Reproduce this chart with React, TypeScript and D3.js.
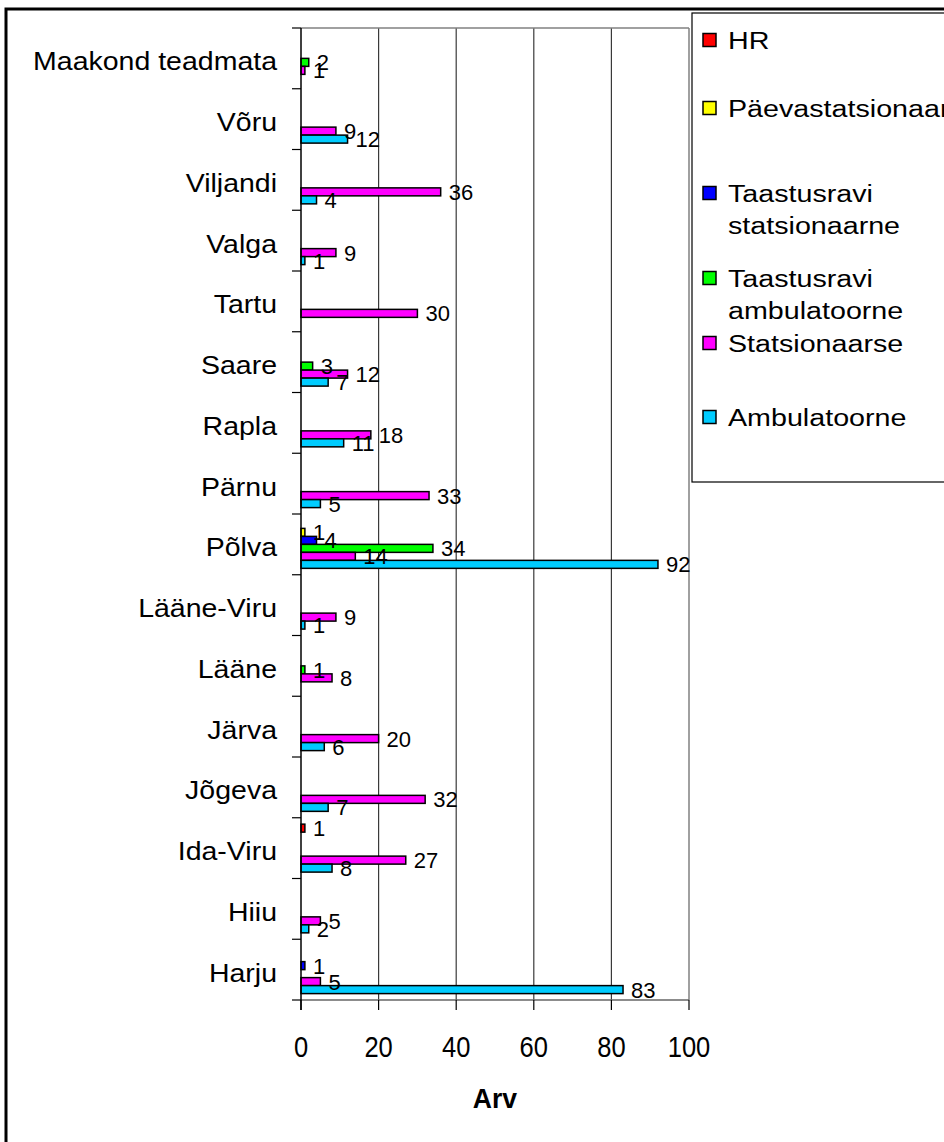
import React from "react";
import * as d3 from "d3";

const categories = [
  "Harju", "Hiiu", "Ida-Viru", "Jõgeva", "Järva", "Lääne", "Lääne-Viru", "Põlva",
  "Pärnu", "Rapla", "Saare", "Tartu", "Valga", "Viljandi", "Võru", "Maakond teadmata",
];

const ambulatoorne = [83, 2, 8, 7, 6, null, 1, 92, 5, 11, 7, null, 1, 4, 12, null];
const statsionaarse = [5, 5, 27, 32, 20, 8, 9, 14, 33, 18, 12, 30, 9, 36, 9, 1];
const taastusraviAmbulatoorne = [null, null, null, null, null, 1, null, 34, null, null, 3, null, null, null, null, 2];
const taastusraviStatsionaarne = [1, null, null, null, null, null, null, 4, null, null, null, null, null, null, null, null];
const paevastatsionaar = [null, null, null, null, null, null, null, 1, null, null, null, null, null, null, null, null];
const hr = [null, null, 1, null, null, null, null, null, null, null, null, null, null, null, null, null];

const xTicks = [0, 20, 40, 60, 80, 100];

// series listed top-to-bottom within a category group (legend order)
const series = [
  { key: "HR", lines: ["HR"], values: hr, color: "#FF0000" },
  { key: "Päevastatsionaar", lines: ["Päevastatsionaar"], values: paevastatsionaar, color: "#FFFF00" },
  { key: "TS", lines: ["Taastusravi", "statsionaarne"], values: taastusraviStatsionaarne, color: "#0000FF" },
  { key: "TA", lines: ["Taastusravi", "ambulatoorne"], values: taastusraviAmbulatoorne, color: "#00FF00" },
  { key: "Statsionaarse", lines: ["Statsionaarse"], values: statsionaarse, color: "#FF00FF" },
  { key: "Ambulatoorne", lines: ["Ambulatoorne"], values: ambulatoorne, color: "#00CCFF" },
];

// layout (not data)
const legendCenters = [40, 108, 193, 278, 343, 417];
const FONT = "'Liberation Sans', Arial, Helvetica, sans-serif";

export default function App() {
  const plotLeft = 301, plotRight = 689, plotTop = 28, plotBottom = 1000;
  const x = d3.scaleLinear().domain([0, 100]).range([plotLeft, plotRight]);
  const y = d3.scaleBand<string>()
    .domain([...categories].reverse())
    .range([plotTop, plotBottom])
    .padding(0);
  const inner = d3.scaleBand<string>()
    .domain(series.map((s) => s.key))
    .range([0, y.bandwidth()])
    .paddingInner(0)
    .paddingOuter(0.8);

  const boundaries = d3.range(categories.length + 1).map((i) => plotTop + i * y.step());

  return (
    <svg
      width={944}
      height={1142}
      style={{ position: "absolute", left: 0, top: 0, background: "#fff" }}
      fontFamily={FONT}
    >
      <rect x={0} y={0} width={944} height={1142} fill="#fff" />
      {/* outer chart border */}
      <rect x={6} y={9} width={1200} height={1400} fill="none" stroke="#000" strokeWidth={3} />

      {/* gridlines */}
      {xTicks.filter((t) => t > 0 && t < 100).map((t) => (
        <line key={"g" + t} x1={x(t)} x2={x(t)} y1={plotTop} y2={plotBottom} stroke="#3a3a3a" strokeWidth={1.2} />
      ))}
      {/* plot border (top/right/bottom) */}
      <line x1={plotLeft} x2={plotRight} y1={plotTop} y2={plotTop} stroke="#808080" strokeWidth={1.5} />
      <line x1={plotRight} x2={plotRight} y1={plotTop} y2={plotBottom} stroke="#808080" strokeWidth={1.5} />
      <line x1={plotLeft} x2={plotRight} y1={plotBottom} y2={plotBottom} stroke="#666" strokeWidth={1.5} />

      {/* bars */}
      {categories.map((c, ci) => (
        <g key={c}>
          {series.map((s) => {
            const v = s.values[ci];
            if (v === null || v === undefined) return null;
            const by = (y(c) as number) + (inner(s.key) as number);
            const bh = inner.bandwidth();
            return (
              <rect
                key={s.key}
                x={x(0)}
                y={by}
                width={Math.max(x(v) - x(0), 0)}
                height={bh}
                fill={s.color}
                stroke="#000"
                strokeWidth={1.5}
              />
            );
          })}
        </g>
      ))}
      {/* data labels */}
      {categories.map((c, ci) => (
        <g key={"l" + c}>
          {series.map((s) => {
            const v = s.values[ci];
            if (v === null || v === undefined) return null;
            const cy = (y(c) as number) + (inner(s.key) as number) + inner.bandwidth() / 2;
            return (
              <text key={s.key} x={x(v) + 8} y={cy + 8} fontSize={22} fill="#000">
                {v}
              </text>
            );
          })}
        </g>
      ))}

      {/* y axis */}
      <line x1={plotLeft} x2={plotLeft} y1={plotTop} y2={plotBottom + 10} stroke="#000" strokeWidth={1.5} />
      {boundaries.map((b, i) => (
        <line key={"yt" + i} x1={plotLeft - 9} x2={plotLeft} y1={b} y2={b} stroke="#000" strokeWidth={1.2} />
      ))}
      {categories.map((c) => (
        <text
          key={"cl" + c}
          transform={`translate(277, ${(y(c) as number) + y.bandwidth() / 2 + 12}) scale(1.14,1)`}
          textAnchor="end"
          fontSize={25}
          fill="#000"
        >
          {c}
        </text>
      ))}

      {/* x axis ticks */}
      {xTicks.map((t) => (
        <g key={"xt" + t}>
          <line x1={x(t)} x2={x(t)} y1={plotBottom} y2={plotBottom + 10} stroke="#000" strokeWidth={1.2} />
          <text
            transform={`translate(${x(t)}, 1057) scale(0.88,1)`}
            textAnchor="middle"
            fontSize={29}
            fill="#000"
          >
            {t}
          </text>
        </g>
      ))}
      <text
        transform={`translate(${(plotLeft + plotRight) / 2}, 1108) scale(0.95,1)`}
        textAnchor="middle"
        fontSize={28}
        fontWeight="bold"
        fill="#000"
      >
        Arv
      </text>

      {/* legend */}
      <rect x={692} y={13} width={400} height={469} fill="#fff" stroke="#000" strokeWidth={1.2} />
      {series.map((s, i) => {
        const cy = legendCenters[i];
        return (
          <g key={"lg" + s.key}>
            <rect x={703} y={cy - 6.5} width={13} height={13} fill={s.color} stroke="#000" strokeWidth={1.5} />
            {s.lines.map((ln, li) => (
              <text
                key={li}
                transform={`translate(728, ${cy + 8.5 + li * 32}) scale(1.17,1)`}
                fontSize={24.5}
                fill="#000"
              >
                {ln}
              </text>
            ))}
          </g>
        );
      })}
    </svg>
  );
}
